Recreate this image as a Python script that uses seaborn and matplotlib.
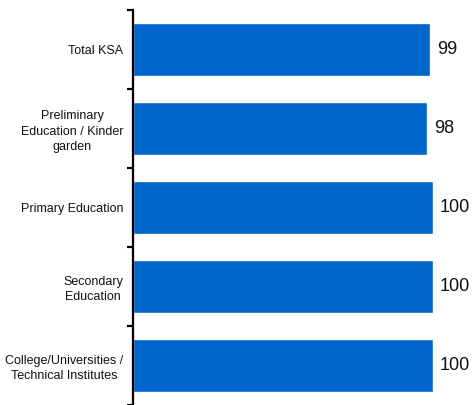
import numpy as np
import pandas as pd
import matplotlib
matplotlib.use("Agg")
import matplotlib.pyplot as plt
import seaborn as sns

categories = [
    "Total KSA",
    "Preliminary\nEducation / Kinder\ngarden",
    "Primary Education",
    "Secondary\nEducation",
    "College/Universities /\nTechnical Institutes",
]
values = [99, 98, 100, 100, 100]

df = pd.DataFrame({"category": categories, "value": values})

sns.set_style("white")
plt.rcParams["font.family"] = ["Liberation Sans", "DejaVu Sans"]

W, H, DPI = 472, 405, 100
fig = plt.figure(figsize=(W / DPI, H / DPI), dpi=DPI)
ax = fig.add_axes([133 / W, 0 / H, (W - 133) / W, 395 / H])

sns.barplot(data=df, x="value", y="category", orient="h", color="#0066CC",
            saturation=1, width=0.67, ax=ax)

ax.set_xlim(0, (W - 133) / 3)
ax.set_ylim(4.5, -0.5)
ax.set_xlabel("")
ax.set_ylabel("")
ax.set_xticks([])

for s in ["top", "right", "bottom"]:
    ax.spines[s].set_visible(False)
ax.spines["left"].set_linewidth(1.6)
ax.spines["left"].set_color("black")

ax.set_yticks(np.arange(-0.5, 5.0, 1.0), minor=True)
ax.tick_params(axis="y", which="major", length=0, pad=7, labelsize=9)
ax.tick_params(axis="y", which="minor", length=4, width=1.6, color="black",
               direction="out", left=True)
for lbl in ax.get_yticklabels():
    lbl.set_multialignment("center")
    lbl.set_linespacing(1.35)
    lbl.set_color("#111111")

ax.bar_label(ax.containers[0], labels=[str(v) for v in values], padding=5,
             fontsize=13, color="#111111")

fig.savefig("out.png", dpi=DPI)
